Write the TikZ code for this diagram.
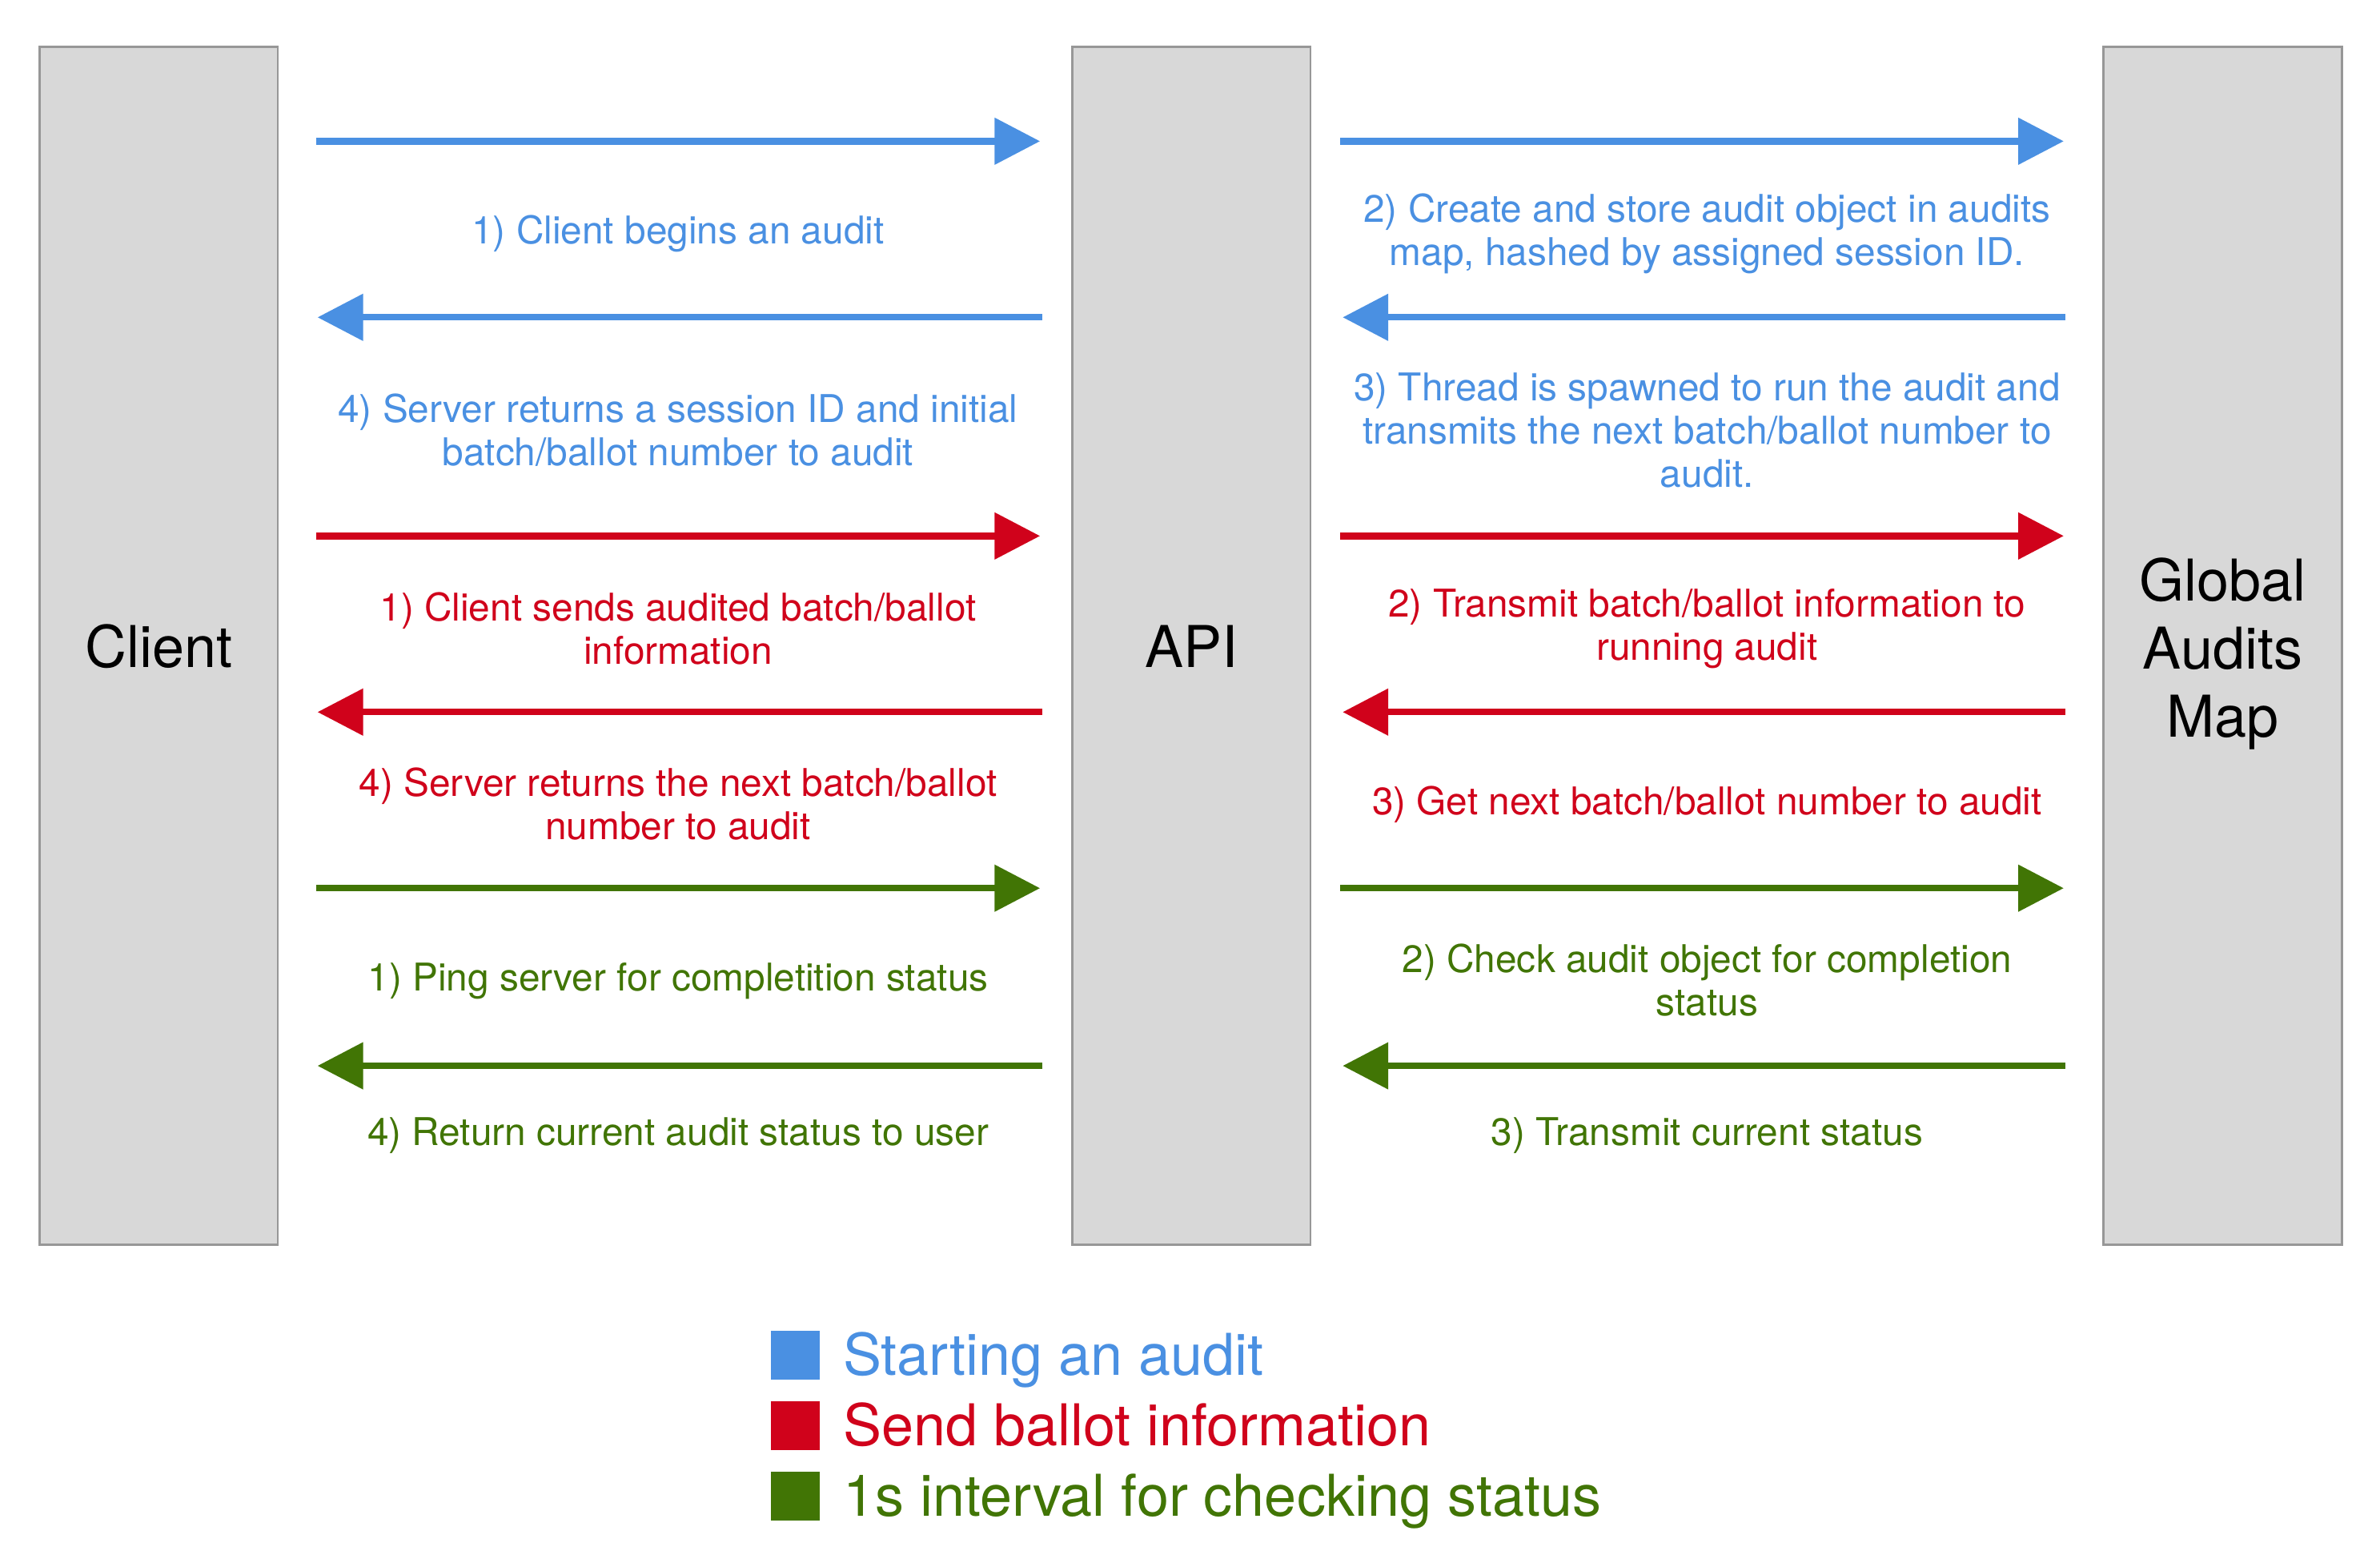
\documentclass[tikz,border=0pt]{standalone}
\usepackage{fontspec}
\setmainfont{TeX Gyre Heros}
\usetikzlibrary{arrows.meta}
\usetikzlibrary{positioning}

\definecolor{flowblue}{HTML}{4A90E2}
\definecolor{flowred}{HTML}{D0021B}
\definecolor{flowgreen}{HTML}{417505}
\definecolor{boxgray}{HTML}{D8D8D8}
\definecolor{boxedge}{HTML}{979797}

\begin{document}
\begin{tikzpicture}[thin, box/.style={rectangle,draw=boxedge,fill=boxgray,line width=0.4pt,minimum width=1.57cm,minimum height=7.89cm,align=center,font=\fontsize{10.8}{12.8}\selectfont}, flow/.style={-{Triangle[length=0.30cm,width=0.30cm]},line width=1.25pt}, toapi/.style={flow,shorten <=0.245cm,shorten >=0.205cm}, fromapi/.style={flow,shorten <=0.19cm,shorten >=0.255cm}, lbl/.style={align=center,font=\fontsize{7.17}{8.1}\selectfont}, key/.style={rectangle,minimum size=0.32cm,inner sep=0pt}, keytext/.style={inner sep=0pt,text height=0.27cm,text depth=0pt,font=\fontsize{10.8}{12.8}\selectfont}]
	  \useasboundingbox (0,0) rectangle (15.68,-10.32);
	  \node[box] (client) at (1.045,-4.255) {Client};
	  \node[box] (api) [right = 5.22cm of client] {API};
	  \node[box] (gam) [right = 5.21cm of api, label={[align=center,font=\fontsize{10.8}{12.8}\selectfont,yshift=-0.05cm]center:Global\\Audits\\Map}] {};
	  
	  \coordinate (r1) at (0,-0.93);
	  \coordinate (r2) at (0,-2.09);
	  \coordinate (r3) at (0,-3.53);
	  \coordinate (r4) at (0,-4.69);
	  \coordinate (r5) at (0,-5.85);
	  \coordinate (r6) at (0,-7.02);
	  
	  \path[every node/.style={lbl}]
	    % starting an audit
	    (client.east |- r1) edge[toapi,flowblue] node [text=flowblue,xshift=0.02cm,yshift=-0.61cm] {1) Client begins an audit} (api.west |- r1)
	    (api.east |- r1) edge[fromapi,flowblue] node [text=flowblue,yshift=-0.61cm] {2) Create and store audit object in audits\\map, hashed by assigned session ID.} (gam.west |- r1)
	    (gam.west |- r2) edge[toapi,flowblue] node [text=flowblue,yshift=-0.745cm] {3) Thread is spawned to run the audit and\\transmits the next batch/ballot number to\\audit.} (api.east |- r2)
	    (api.west |- r2) edge[fromapi,flowblue] node [text=flowblue,xshift=0.02cm,yshift=-0.745cm] {4) Server returns a session ID and initial\\batch/ballot number to audit} (client.east |- r2)
	    
	    % send ballot information
	    (client.east |- r3) edge[toapi,flowred] node [text=flowred,xshift=0.02cm,yshift=-0.61cm] {1) Client sends audited batch/ballot\\information} (api.west |- r3)
	    (api.east |- r3) edge[fromapi,flowred] node [text=flowred,yshift=-0.61cm] {2) Transmit batch/ballot information to\\running audit} (gam.west |- r3)
	    (gam.west |- r4) edge[toapi,flowred] node [text=flowred,yshift=-0.61cm] {3) Get next batch/ballot number to audit} (api.east |- r4)
	    (api.west |- r4) edge[fromapi,flowred] node [text=flowred,xshift=0.02cm,yshift=-0.605cm] {4) Server returns the next batch/ballot\\number to audit} (client.east |- r4)
	    
	    % checking status
	    (client.east |- r5) edge[toapi,flowgreen] node [text=flowgreen,xshift=0.02cm,yshift=-0.61cm] {1) Ping server for completition status} (api.west |- r5)
	    (api.east |- r5) edge[fromapi,flowgreen] node [text=flowgreen,yshift=-0.605cm] {2) Check audit object for completion\\status} (gam.west |- r5)
	    (gam.west |- r6) edge[toapi,flowgreen] node [text=flowgreen,yshift=-0.46cm] {3) Transmit current status} (api.east |- r6)
	    (api.west |- r6) edge[fromapi,flowgreen] node [text=flowgreen,xshift=0.02cm,yshift=-0.46cm] {4) Return current audit status to user} (client.east |- r6);
	  
	  % legend
	  \node[key,fill=flowblue] (k1) at (5.24,-8.925) {};
	  \node[key,fill=flowred] (k2) [below = 0.13cm of k1] {};
	  \node[key,fill=flowgreen] (k3) [below = 0.13cm of k2] {};
	  \node[keytext,text=flowblue] (t1) [right = 0.14cm of k1] {Starting an audit};
	  \node[keytext,text=flowred] (t2) [right = 0.14cm of k2] {Send ballot information};
	  \node[keytext,text=flowgreen] (t3) [right = 0.14cm of k3] {1s interval for checking status};
	\end{tikzpicture}
\end{document}
